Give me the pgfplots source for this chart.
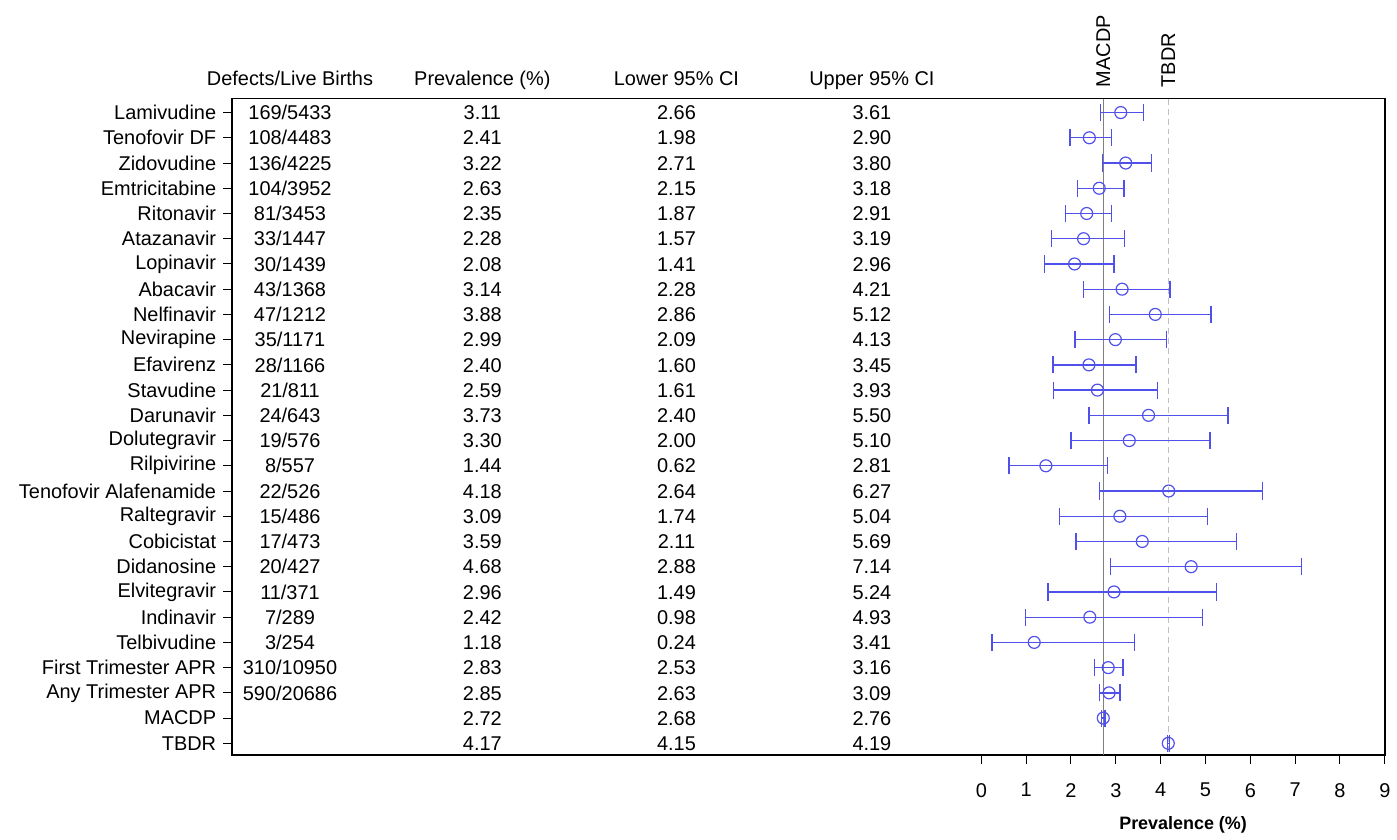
\documentclass[border=0pt]{standalone}
\usepackage{fontspec}
\setmainfont{Liberation Sans}
\usepackage{pgfplots}
\usepackage{pgfplotstable}
\pgfplotsset{compat=1.18}

\definecolor{barblue}{RGB}{80,80,235}

% y = row (1 = top), frac = defects/live births ("x" = none)
\pgfplotstableread{
y  frac      prev  lo    hi
1  169/5433  3.11  2.66  3.61
2  108/4483  2.41  1.98  2.90
3  136/4225  3.22  2.71  3.80
4  104/3952  2.63  2.15  3.18
5  81/3453   2.35  1.87  2.91
6  33/1447   2.28  1.57  3.19
7  30/1439   2.08  1.41  2.96
8  43/1368   3.14  2.28  4.21
9  47/1212   3.88  2.86  5.12
10 35/1171   2.99  2.09  4.13
11 28/1166   2.40  1.60  3.45
12 21/811    2.59  1.61  3.93
13 24/643    3.73  2.40  5.50
14 19/576    3.30  2.00  5.10
15 8/557     1.44  0.62  2.81
16 22/526    4.18  2.64  6.27
17 15/486    3.09  1.74  5.04
18 17/473    3.59  2.11  5.69
19 20/427    4.68  2.88  7.14
20 11/371    2.96  1.49  5.24
21 7/289     2.42  0.98  4.93
22 3/254     1.18  0.24  3.41
23 310/10950 2.83  2.53  3.16
24 590/20686 2.85  2.63  3.09
25 x         2.72  2.68  2.76
26 x         4.17  4.15  4.19
}\ci

\begin{document}
\begin{tikzpicture}[txt/.style={anchor=center, black, text height=7.2pt, text depth=0pt}]
\begin{axis}[
  scale only axis,
  width=578.5pt, height=329.5pt,
  xmin=-16.711, xmax=9,
  ymin=0.447, ymax=26.47,
  y dir=reverse,
  clip=false,
  axis line style={line width=0.75pt},
  tick align=outside,
  major tick length=4.5pt,
  tick style={black, line width=0.5pt},
  xtick pos=bottom, ytick pos=left,
  xtick={0,1,2,3,4,5,6,7,8,9},
  xticklabel style={yshift=-6pt},
  ytick={1,...,26},
  yticklabels={Lamivudine,Tenofovir DF,Zidovudine,Emtricitabine,Ritonavir,Atazanavir,Lopinavir,Abacavir,Nelfinavir,Nevirapine,Efavirenz,Stavudine,Darunavir,Dolutegravir,Rilpivirine,Tenofovir Alafenamide,Raltegravir,Cobicistat,Didanosine,Elvitegravir,Indinavir,Telbivudine,First Trimester APR,Any Trimester APR,MACDP,TBDR},
  /pgf/number format/assume math mode=true,
  xlabel={\bfseries\fontsize{9}{10}\selectfont Prevalence (\%)},
  xlabel style={at={(axis description cs:0.825,0)}, anchor=center, yshift=-35pt},
]
% reference lines
\addplot[gray, line width=0.6pt] coordinates {(2.72,0.447) (2.72,26.47)};
\addplot[black!25, densely dashed, line width=0.6pt] coordinates {(4.17,0.447) (4.17,26.47)};

% estimates with 95% CI
\addplot[barblue, only marks, mark=o, mark size=3pt, mark options={line width=0.6pt},
  error bars/.cd, x dir=both, x explicit,
  error mark=|,
  error bar style={line width=0.65pt, barblue},
  error mark options={mark size=4.3pt, line width=0.65pt, barblue}]
  table[x=prev, y=y,
        x error plus expr=\thisrow{hi}-\thisrow{prev},
        x error minus expr=\thisrow{prev}-\thisrow{lo}] {\ci};

% text columns
\addplot[draw=none, mark=none, nodes near coords, point meta=explicit symbolic,
  nodes near coords style={txt}, restrict y to domain=1:24]
  table[x expr=-15.42, y=y, meta=frac] {\ci};
\addplot[draw=none, mark=none, nodes near coords, point meta=explicit symbolic,
  nodes near coords style={txt}]
  table[x expr=-11.13, y=y, meta=prev] {\ci};
\addplot[draw=none, mark=none, nodes near coords, point meta=explicit symbolic,
  nodes near coords style={txt}]
  table[x expr=-6.80, y=y, meta=lo] {\ci};
\addplot[draw=none, mark=none, nodes near coords, point meta=explicit symbolic,
  nodes near coords style={txt}]
  table[x expr=-2.44, y=y, meta=hi] {\ci};

% headers
\node[txt] at (axis cs:-15.42,-0.343) {Defects/Live Births};
\node[txt] at (axis cs:-11.13,-0.343) {Prevalence (\%)};
\node[txt] at (axis cs:-6.80,-0.343) {Lower 95\% CI};
\node[txt] at (axis cs:-2.44,-0.343) {Upper 95\% CI};
\node[rotate=90, anchor=west, inner sep=0pt] at ([yshift=5.5pt]axis cs:2.72,0.447) {MACDP};
\node[rotate=90, anchor=west, inner sep=0pt] at ([yshift=5.5pt]axis cs:4.17,0.447) {TBDR};
\end{axis}
\path ([xshift=-116.5pt,yshift=-38.5pt]current axis.south west)
  rectangle ([xshift=3.5pt,yshift=49.5pt]current axis.north east);
\end{tikzpicture}
\end{document}
